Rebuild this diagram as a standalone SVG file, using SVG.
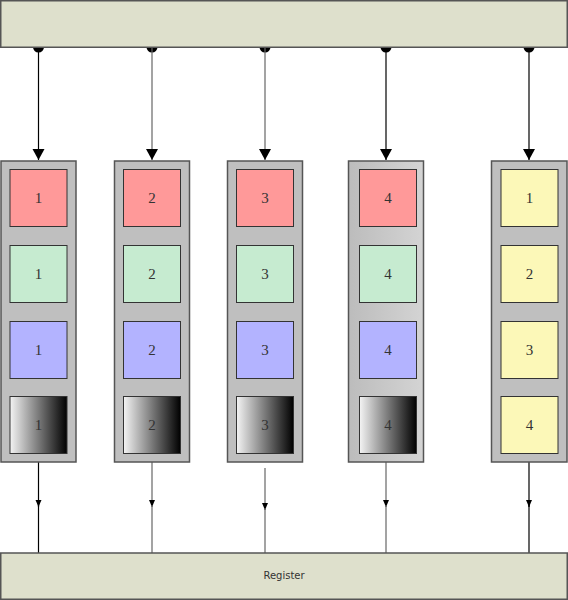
<svg xmlns="http://www.w3.org/2000/svg" width="568" height="600" viewBox="0 0 568 600">
<defs>
<linearGradient id="bw" x1="0" y1="0" x2="1" y2="0">
<stop offset="0" stop-color="#f4f4f4"/>
<stop offset="0.5" stop-color="#7a7a7a"/>
<stop offset="1" stop-color="#000"/>
</linearGradient>
<linearGradient id="cg" x1="0" y1="0" x2="1" y2="0">
<stop offset="0" stop-color="#bcbcbc"/>
<stop offset="1" stop-color="#d4d4d4"/>
</linearGradient>
<marker id="big" markerWidth="11" markerHeight="13" refX="11" refY="6.5" orient="auto" markerUnits="userSpaceOnUse">
<path d="M0,0.5 L11,6.5 L0,12.5 Z" fill="#000"/>
</marker>
<marker id="small" markerWidth="7" markerHeight="7" refX="7" refY="3.5" orient="auto" markerUnits="userSpaceOnUse">
<path d="M0,0.5 L7,3.5 L0,6.5 Z" fill="#000"/>
</marker>
</defs>
<style>
.bar{fill:#dee0cc;stroke:#555;stroke-width:1.5}
.col{fill:#bfbfbf;stroke:#555;stroke-width:1.5}
.b{stroke:#333;stroke-width:1}
.r{fill:#ff9999}.g{fill:#c6ebd0}.u{fill:#b3b3ff}.y{fill:#fcf8b8}.k{fill:url(#bw)}
.n{font-family:"Liberation Serif","DejaVu Serif",serif;font-size:15px;fill:#333;text-anchor:middle}
.lbl{font-family:"DejaVu Sans","Liberation Sans",sans-serif;font-size:10px;fill:#333;text-anchor:middle}
.c{fill:none;stroke-width:1.2}
.blk{stroke:#000}.gry{stroke:#666}
</style>
<g id="connectors">
<circle cx="38.5" cy="47" r="5.5" fill="#000"/>
<circle cx="152" cy="47" r="5.5" fill="#000"/>
<circle cx="265" cy="47" r="5.5" fill="#000"/>
<circle cx="386" cy="47" r="5.5" fill="#000"/>
<circle cx="529" cy="47" r="5.5" fill="#000"/>
<line class="c blk" x1="38.5" y1="47" x2="38.5" y2="160" marker-end="url(#big)"/>
<line class="c gry" x1="152" y1="47" x2="152" y2="160" marker-end="url(#big)"/>
<line class="c gry" x1="265" y1="47" x2="265" y2="160" marker-end="url(#big)"/>
<line class="c blk" x1="386" y1="47" x2="386" y2="160" marker-end="url(#big)"/>
<line class="c blk" x1="529" y1="47" x2="529" y2="160" marker-end="url(#big)"/>
<line class="c blk" x1="38.5" y1="462" x2="38.5" y2="507" marker-end="url(#small)"/>
<line class="c blk" x1="38.5" y1="505" x2="38.5" y2="553"/>
<line class="c gry" x1="152" y1="462" x2="152" y2="507" marker-end="url(#small)"/>
<line class="c gry" x1="152" y1="505" x2="152" y2="553"/>
<line class="c gry" x1="265" y1="468" x2="265" y2="510" marker-end="url(#small)"/>
<line class="c gry" x1="265" y1="508" x2="265" y2="553"/>
<line class="c gry" x1="386" y1="462" x2="386" y2="507" marker-end="url(#small)"/>
<line class="c gry" x1="386" y1="505" x2="386" y2="553"/>
<line class="c blk" x1="529" y1="462" x2="529" y2="507" marker-end="url(#small)"/>
<line class="c blk" x1="529" y1="505" x2="529" y2="553"/>
</g>
<g id="top-bar"><rect class="bar" x="0.75" y="0.75" width="566.5" height="46.5"/></g>
<g id="column-1">
<rect class="col" x="1" y="161" width="75" height="301"/>
<rect class="b r" x="10" y="169.5" width="57" height="57"/><text class="n" x="38.5" y="203">1</text>
<rect class="b g" x="10" y="245.5" width="57" height="57"/><text class="n" x="38.5" y="279">1</text>
<rect class="b u" x="10" y="321.5" width="57" height="57"/><text class="n" x="38.5" y="355">1</text>
<rect class="b k" x="10" y="396.5" width="57" height="57"/><text class="n" x="38.5" y="430">1</text>
</g>
<g id="column-2">
<rect class="col" x="114.5" y="161" width="75" height="301"/>
<rect class="b r" x="123.5" y="169.5" width="57" height="57"/><text class="n" x="152" y="203">2</text>
<rect class="b g" x="123.5" y="245.5" width="57" height="57"/><text class="n" x="152" y="279">2</text>
<rect class="b u" x="123.5" y="321.5" width="57" height="57"/><text class="n" x="152" y="355">2</text>
<rect class="b k" x="123.5" y="396.5" width="57" height="57"/><text class="n" x="152" y="430">2</text>
</g>
<g id="column-3">
<rect class="col" x="227.5" y="161" width="75" height="301"/>
<rect class="b r" x="236.5" y="169.5" width="57" height="57"/><text class="n" x="265" y="203">3</text>
<rect class="b g" x="236.5" y="245.5" width="57" height="57"/><text class="n" x="265" y="279">3</text>
<rect class="b u" x="236.5" y="321.5" width="57" height="57"/><text class="n" x="265" y="355">3</text>
<rect class="b k" x="236.5" y="396.5" width="57" height="57"/><text class="n" x="265" y="430">3</text>
</g>
<g id="column-4">
<rect class="col" x="348.5" y="161" width="75" height="301" style="fill:url(#cg)"/>
<rect class="b r" x="359.5" y="169.5" width="57" height="57"/><text class="n" x="388" y="203">4</text>
<rect class="b g" x="359.5" y="245.5" width="57" height="57"/><text class="n" x="388" y="279">4</text>
<rect class="b u" x="359.5" y="321.5" width="57" height="57"/><text class="n" x="388" y="355">4</text>
<rect class="b k" x="359.5" y="396.5" width="57" height="57"/><text class="n" x="388" y="430">4</text>
</g>
<g id="column-5">
<rect class="col" x="491.5" y="161" width="75.5" height="301"/>
<rect class="b y" x="501" y="169.5" width="57" height="57"/><text class="n" x="529.5" y="203">1</text>
<rect class="b y" x="501" y="245.5" width="57" height="57"/><text class="n" x="529.5" y="279">2</text>
<rect class="b y" x="501" y="321.5" width="57" height="57"/><text class="n" x="529.5" y="355">3</text>
<rect class="b y" x="501" y="396.5" width="57" height="57"/><text class="n" x="529.5" y="430">4</text>
</g>
<g id="register">
<rect class="bar" x="0.75" y="553" width="566.5" height="46.25"/>
<text class="lbl" x="284" y="579">Register</text>
</g>
</svg>
